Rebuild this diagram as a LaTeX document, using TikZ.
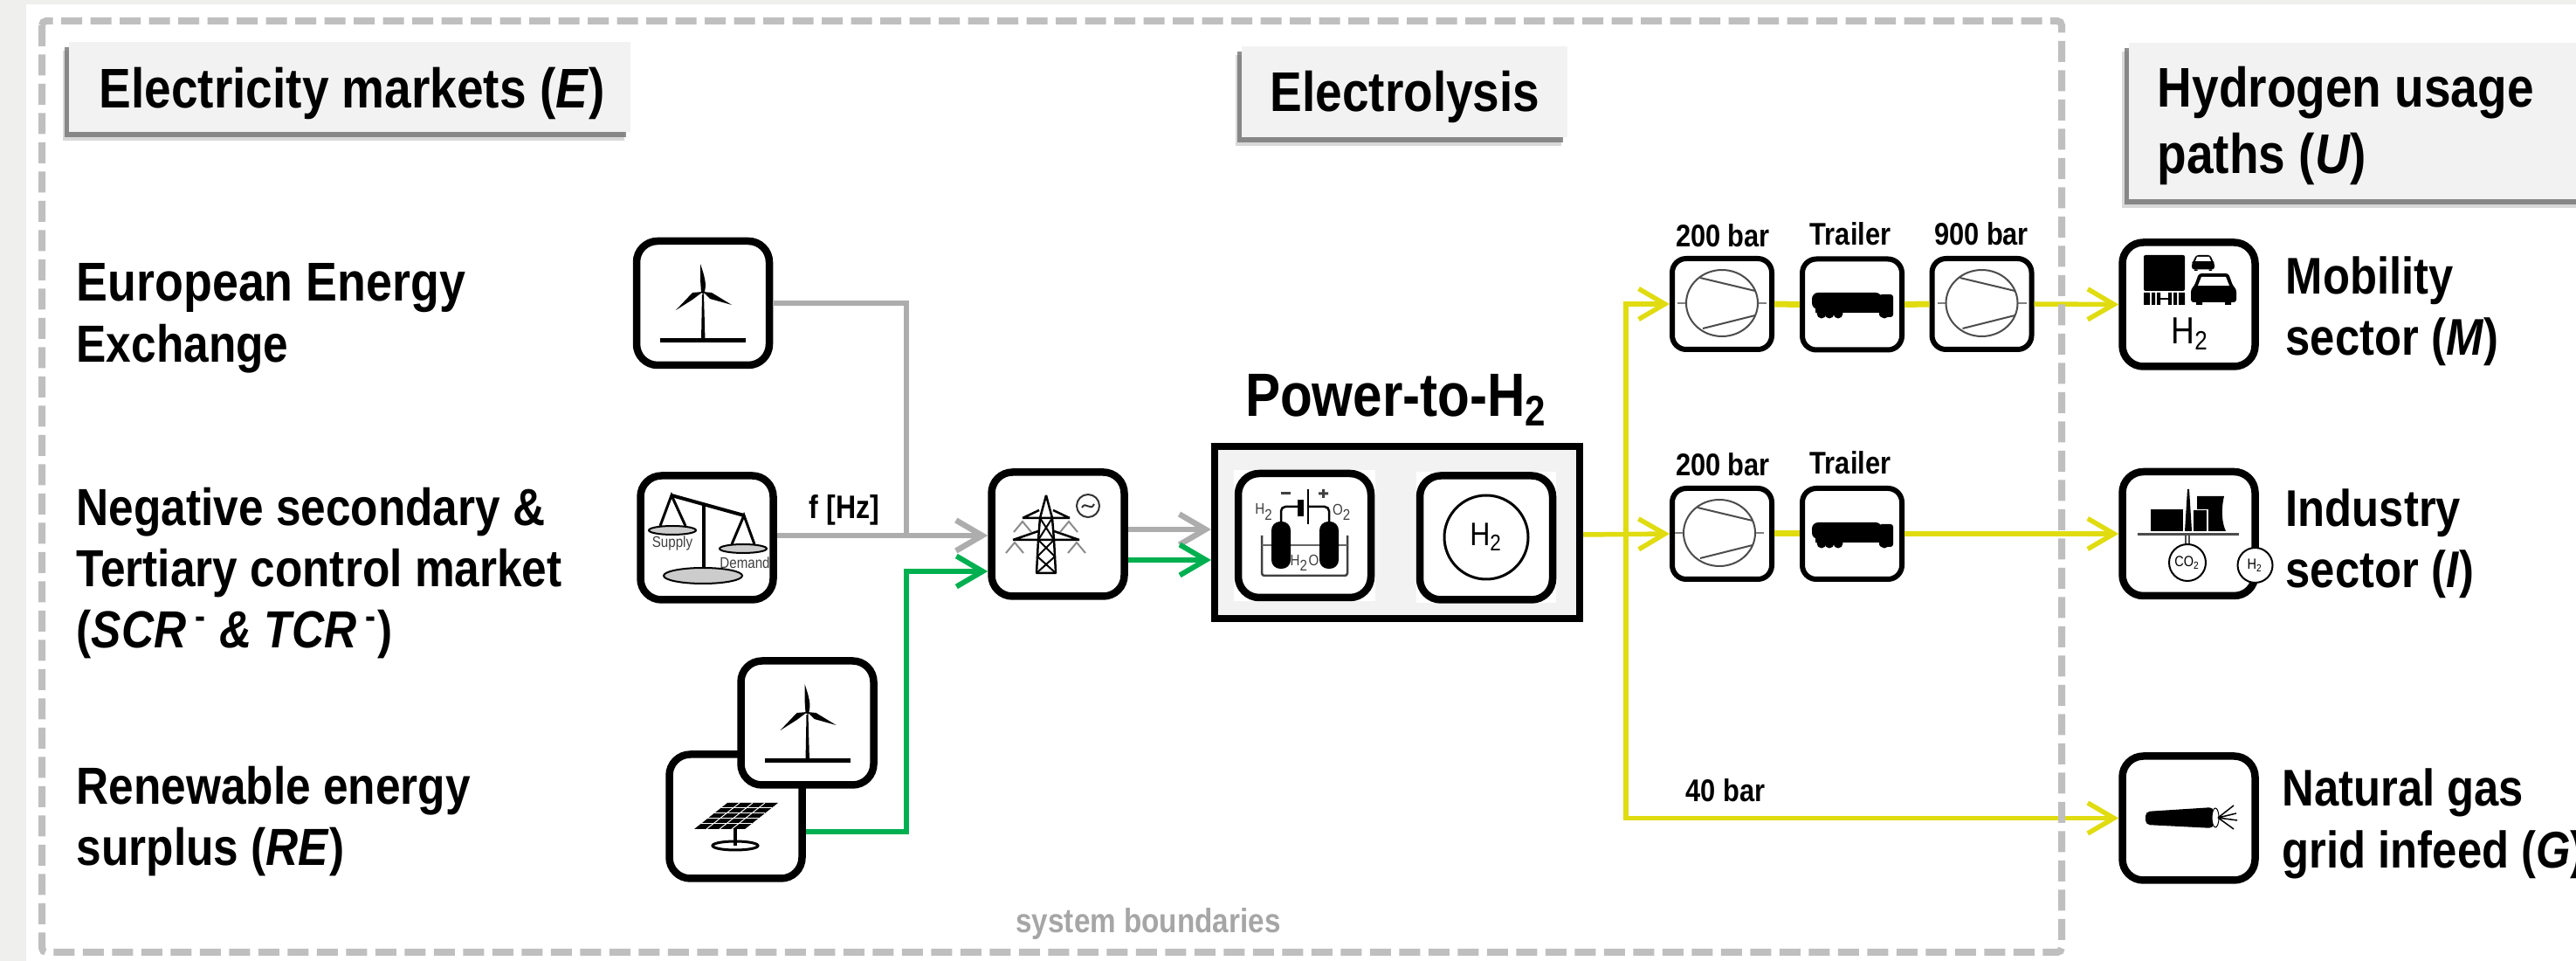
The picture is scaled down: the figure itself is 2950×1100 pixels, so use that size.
\documentclass[tikz,border=0pt]{standalone}
\usepackage{fontspec}
\setmainfont[FakeStretch=0.86]{Liberation Sans}
\usetikzlibrary{arrows.meta,shadows}
\definecolor{pagegray}{HTML}{EFEFED}
\definecolor{panelgray}{HTML}{F2F2F2}
\definecolor{boundgray}{HTML}{BFBFBF}
\definecolor{flowgray}{HTML}{ADADAD}
\definecolor{flowgreen}{HTML}{00B050}
\definecolor{flowyellow}{HTML}{E0DC10}
\tikzset{
    pics/windmill/.style={code={
        \draw[line width=0.5mm] (-49,0) -- (49,0);
        \fill (-2,0) -- (-1,-53) -- (1,-53) -- (2.5,0) -- cycle;
        \fill (1,-53) .. controls (4,-62) and (4,-68) .. (-3,-88) -- (-3,-70) -- (-2,-55) -- cycle;
        \fill (0,-56) -- (10,-55) -- (33,-41) -- (8,-48) -- cycle;
        \fill (0,-56) -- (-12,-55) -- (-31,-35) -- (-12,-47) -- cycle;
    }},
    pics/compressor/.style={code={
        \draw[line width=0.15mm, gray] (-51,0) -- (-41,0) (41,0) -- (51,0);
        \draw[line width=0.2mm, black!70] (0,0) ellipse [x radius=41, y radius=38];
        \draw[line width=0.2mm, black!70] (-25,-29) -- (38,-14) (-22,29) -- (38,14);
    }},
    pics/truck/.style={code={
        \fill[rounded corners=0.7mm] (-46,-15) rectangle (34,4);
        \fill (-42,3) rectangle (34,8);
        \fill[rounded corners=0.3mm] (31,-13) rectangle (47,13);
        \foreach \wx in {-35,-26,-16,37} {\fill (\wx,9) circle (5.5);}
    }},
    pics/car/.style={code={
        \fill[rounded corners=0.3mm] (-17,-18) -- (17,-18) -- (22,-4) -- (26,0) -- (26,15) -- (-26,15) -- (-26,0) -- (-22,-4) -- cycle;
        \fill (-20,15) rectangle (-13,18) (13,15) rectangle (20,18);
        \fill[white] (-14,-14) -- (14,-14) -- (18,-4) -- (-18,-4) -- cycle;
    }},
    iconbox/.style={draw, line width=0.85mm, rounded corners=2.4mm, fill=white, inner sep=0pt, minimum width=15.2cm/10, minimum height=14.2cm/10},
    smallbox/.style={draw, line width=0.6mm, rounded corners=1.6mm, fill=white, inner sep=0pt, minimum width=11.4cm/10, minimum height=10.4cm/10},
    headbox/.style={fill=panelgray, inner sep=0pt,
        drop shadow={shadow xshift=-0.75mm, shadow yshift=-1mm, fill=black!25, opacity=0.6},
        drop shadow={shadow xshift=-0.5mm, shadow yshift=-0.6mm, fill=black!55, opacity=0.8}},
    bigtext/.style={font=\fontsize{18.2}{21.6}\selectfont\bfseries},
    sidetext/.style={font=\fontsize{17}{20}\selectfont\bfseries, align=left, inner sep=0pt},
    righttext/.style={font=\fontsize{16.8}{20}\selectfont\bfseries, align=left, inner sep=0pt},
    stagetext/.style={font=\fontsize{10.2}{12}\selectfont\bfseries, inner sep=0pt},
    tinytext/.style={font=\fontsize{5}{6}\selectfont, text=black!75, inner sep=0pt},
    grayline/.style={flowgray, line width=0.65mm, line join=miter},
    greenline/.style={flowgreen, line width=0.6mm, line join=miter},
    yellowline/.style={flowyellow, line width=0.55mm, line join=miter},
}
\begin{document}
\begin{tikzpicture}[x=0.1mm, y=-0.1mm, >={Straight Barb[length=3mm, width=3.5mm]}]
    \useasboundingbox (0,0) rectangle (2950,1100);
    % Page
    \fill[pagegray] (0,0) rectangle (2950,1100);
    \fill[white] (30,5) rectangle (2950,1100);

    % Headers
    \node[headbox, minimum width=6.43cm, minimum height=1.03cm] (headE) at (400.5,99.5) {};
    \node[bigtext, anchor=base west, inner sep=0pt] (headEtext) at (113,124) {Electricity markets (\textit{E})};
    \node[headbox, minimum width=3.73cm, minimum height=1.04cm] (headP) at (1608.5,105) {};
    \node[bigtext, anchor=base, inner sep=0pt] (headPtext) at (1609,128) {Electrolysis};
    \node[headbox, anchor=north west, minimum width=6cm, minimum height=1.79cm] (headU) at (2437,48) {};
    \node[bigtext, anchor=west, align=left, inner sep=0pt] (headUtext) at (2470,144) {Hydrogen usage\\paths (\textit{U})};

    % Left labels
    \node[sidetext, anchor=west] (labelEEX) at (87,364) {\fontsize{17.8}{21.3}\selectfont European Energy\\Exchange};
    \node[sidetext, anchor=west] (labelSCR) at (87,656) {Negative secondary \&\\Tertiary control market\\(\textit{SCR}\textsuperscript{ -} \textit{\& TCR}\textsuperscript{ -})};
    \node[sidetext, anchor=west] (labelRE) at (87,940) {Renewable energy\\surplus (\textit{RE})};

    % Right labels
    \node[righttext, anchor=west] (labelM) at (2617,356) {Mobility\\sector (\textit{M})};
    \node[righttext, anchor=west] (labelI) at (2617,622) {Industry\\sector (\textit{I})};
    \node[righttext, anchor=west] (labelG) at (2613,943) {Natural gas\\grid infeed (\textit{G})};

    % Arrows
    \coordinate (fjoin) at (1038,613);
    \coordinate (gjoin) at (1038,654);
    \coordinate (split) at (1862,612);
    \node[iconbox] (eex) at (805,347) {};
    \node[iconbox] (balance) at (809.5,615.5) {};
    \node[iconbox] (grid) at (1211.5,611.5) {};
    \node[iconbox] (solar) at (842.5,934.5) {};
    \node[iconbox] (wind) at (924.5,827.5) {};
    \draw[grayline] (eex.east) -| (fjoin);
    \draw[grayline, ->] (balance.east |- fjoin) -- (grid.west |- fjoin);
    \draw[greenline, ->] (solar.east |- 0,952) -| (gjoin) -- (grid.west |- gjoin);
    \node[draw, line width=0.8mm, fill=panelgray, inner sep=0pt, minimum width=4.18cm, minimum height=1.97cm] (p2h) at (1600,609.5) {};
    \draw[grayline, ->] (grid.east |- 0,606) -- (p2h.west |- 0,606);
    \draw[greenline, ->] (grid.east |- 0,641) -- (p2h.west |- 0,641);

    % Power-to-H2
    \node[font=\fontsize{19.9}{23}\selectfont\bfseries, anchor=base, inner sep=0pt] (p2hlabel) at (1599,477) {Power-to-H\textsubscript{2}};
    \node[fill=white, inner sep=0pt, minimum width=1.62cm, minimum height=1.5cm] (cellback) at (1494,613) {};
    \node[fill=white, inner sep=0pt, minimum width=1.6cm, minimum height=1.5cm] (tankback) at (1702,615.5) {};
    \node[iconbox] (cell) at (1494,613) {};
    \node[iconbox] (tank) at (1702,615.5) {};
    \node[draw, circle, line width=0.3mm, inner sep=0pt, minimum size=0.96cm, font=\fontsize{10.6}{12}\selectfont] (tankH2) at (1702,615) {H\textsubscript{2}};
    % cell icon
    \draw[line width=0.25mm, black!75, rounded corners=0.3mm] (1445,613) -- (1445,659) -- (1543,659) -- (1543,613);
    \draw[line width=0.2mm, black!60] (1445,624) -- (1543,624);
    \fill[rounded corners=1mm] (1456,597) rectangle (1478,651) (1511,597) rectangle (1533,651);
    \draw[line width=0.25mm, rounded corners=0.5mm] (1467,597) -- (1467,580) -- (1489,580) (1498,580) -- (1522,580) -- (1522,597);
    \draw[line width=0.7mm] (1489,572) -- (1489,591);
    \draw[line width=0.25mm] (1498,560) -- (1498,600);
    \fill[black!75] (1467,563.5) rectangle (1478,566.5);
    \fill[black!75] (1510,563.5) rectangle (1521,566.5) (1514,560) rectangle (1517,570);
    \node[tinytext] (cellH2) at (1448,586) {H\textsubscript{2}};
    \node[tinytext] (cellO2) at (1537,586) {O\textsubscript{2}};
    \node[tinytext] (cellH2O) at (1494,644) {H\textsubscript{2}O};

    % Yellow path
    \node[smallbox] (comp1) at (1972,348) {};
    \node[smallbox] (truck1) at (2121,348.5) {};
    \node[smallbox] (comp2) at (2269.5,348) {};
    \node[smallbox] (comp3) at (1972,611) {};
    \node[smallbox] (truck2) at (2121,611) {};
    \node[iconbox] (mobility) at (2506.5,348.5) {};
    \node[iconbox] (industry) at (2506.5,611) {};
    \node[iconbox] (gas) at (2506.5,936.5) {};
    \draw[yellowline, ->] (p2h.east |- split) -- (comp3.west);
    \draw[yellowline, ->] (split) |- (comp1.west);
    \draw[yellowline, ->] (split) |- (gas.west);
    \draw[yellowline, line width=0.7mm] (comp1.east) -- (truck1.west);
    \draw[yellowline, line width=0.7mm] (truck1.east) -- (comp2.west);
    \draw[yellowline, ->] (comp2.east) -- (mobility.west);
    \draw[yellowline, line width=0.7mm] (comp3.east) -- (truck2.west);
    \draw[yellowline, ->] (truck2.east) -- (industry.west);
    \pic at (1972,347) {compressor};
    \pic at (2269.5,347) {compressor};
    \pic at (1969,610) {compressor};
    \pic at (2121,350) {truck};
    \pic at (2121,613) {truck};

    % Stage labels
    \node[stagetext, anchor=base] (label200a) at (1973,283) {200 bar};
    \node[stagetext, anchor=base] (labeltra) at (2119,281) {Trailer};
    \node[stagetext, anchor=base] (label900) at (2269,281) {900 bar};
    \node[stagetext, anchor=base] (label200b) at (1973,545) {200 bar};
    \node[stagetext, anchor=base] (labeltrb) at (2119,543) {Trailer};
    \node[stagetext, anchor=base] (label40) at (1976,918) {40 bar};
    \node[stagetext, font=\fontsize{10.6}{12}\selectfont\bfseries, anchor=base] (labelfreq) at (967,594) {f [Hz]};

    % Source icons
    \pic at (805,390) {windmill};
    \pic at (924.5,871) {windmill};
    % balance
    \draw[line width=0.4mm] (769,567) -- (852,590);
    \draw[line width=0.4mm] (806,578) -- (806,659);
    \draw[line width=0.3mm] (756,602) -- (769,567) -- (785,602) (838,623) -- (852,590) -- (864,623);
    \foreach \ex/\ey/\erx/\ery in {770/607/27/5, 851/628/27/5, 805/659/45/9} {
        \draw[line width=0.2mm, fill=black!20] (\ex,\ey) ellipse [x radius=\erx, y radius=\ery];
    }
    \node[tinytext] (supply) at (770,622) {Supply};
    \node[tinytext] (demand) at (853,644) {Demand};
    % solar
    \fill (833,919) -- (891,919) -- (853,949) -- (795,949) -- cycle;
    \draw[white, line width=0.1mm] (826,925) -- (884,925) (818,931) -- (876,931) (810,937) -- (869,937) (803,943) -- (861,943);
    \draw[white, line width=0.1mm] (847,919) -- (809,949) (862,919) -- (824,949) (876,919) -- (838,949);
    \draw[line width=0.35mm] (842,949) -- (842,968);
    \draw[line width=0.3mm] (842,968) ellipse [x radius=26, y radius=5];
    % pylon
    \draw[line width=0.25mm, line join=bevel] (1187,656) -- (1189,618) -- (1191,593) -- (1198,567) -- (1205,593) -- (1207,618) -- (1209,656) -- cycle;
    \draw[line width=0.25mm] (1171,593) -- (1225,593) (1160,618) -- (1236,618) (1171,593) -- (1190,584) (1225,593) -- (1206,584) (1160,618) -- (1189,608) (1236,618) -- (1207,608);
    \draw[line width=0.2mm] (1191,593) -- (1207,618) (1205,593) -- (1189,618) (1189,618) -- (1208,637) -- (1187,656) (1207,618) -- (1188,637) -- (1209,656);
    \foreach \px/\py in {1171/603, 1224/603, 1162/627, 1233/627} {
        \draw[line width=0.2mm, black!45] (\px-10,\py+6) -- (\px,\py-6) -- (\px+10,\py+6);
    }
    \draw[line width=0.2mm, black!80] (1246,579) circle (13);
    \draw[line width=0.2mm, black!80] (1239,581) .. controls (1243,573) and (1249,586) .. (1253,577);

    % Sink icons
    \fill[rounded corners=0.2mm] (2455,292) rectangle (2502,333);
    \fill (2455,335) rectangle (2462,349) (2464,335) rectangle (2468,349) (2470,335) rectangle (2474,349) (2483,335) rectangle (2487,349) (2489,335) rectangle (2493,349) (2495,335) rectangle (2502,349);
    \draw[line width=0.25mm] (2474,342) -- (2483,342);
    \pic at (2535,331) {car};
    \pic[scale=0.5] at (2523,301) {car};
    \node[font=\fontsize{12.3}{14}\selectfont, inner sep=0pt] (mobilityH2) at (2508,382) {H\textsubscript{2}};
    % industry
    \draw[line width=0.3mm, black!70] (2448,612) -- (2564,612);
    \fill (2463,583) rectangle (2500,608);
    \fill (2502,608) -- (2505,560) -- (2507,560) -- (2510,608) -- cycle;
    \fill (2512,584) rectangle (2527,608);
    \fill (2516,568) -- (2547,568) .. controls (2543,585) and (2545,600) .. (2549,608) -- (2529,608) -- (2529,583) -- (2516,583) -- cycle;
    \draw[line width=0.2mm, black!70] (2503,612) -- (2503,624) (2507,612) -- (2507,624);
    \node[draw, circle, line width=0.2mm, fill=white, inner sep=0pt, minimum size=0.42cm, font=\fontsize{4.8}{6}\selectfont] (co2) at (2505,644) {CO\textsubscript{2}};
    \node[draw, circle, line width=0.2mm, fill=white, inner sep=0pt, minimum size=0.4cm, font=\fontsize{4.8}{6}\selectfont] (h2circle) at (2582.5,647) {H\textsubscript{2}};
    % gas torch
    \fill[rounded corners=0.5mm] (2457,929) -- (2535,924) -- (2535,948) -- (2457,944) -- cycle;
    \draw[line width=0.1mm, fill=white] (2537,936) ellipse [x radius=4, y radius=11];
    \draw[line width=0.15mm] (2540,936) -- (2558,922) (2540,936) -- (2561,931) (2540,936) -- (2562,939) (2540,936) -- (2558,949);

    % Boundary
    \draw[boundgray, line width=0.8mm, dash pattern=on 2.4mm off 0.95mm, rounded corners=0.5mm] (48,24) rectangle (2361,1090);
    \node[font=\fontsize{11}{13}\selectfont\bfseries, text=black!35, anchor=base, inner sep=0pt] (sysbound) at (1315,1068) {system boundaries};
\end{tikzpicture}
\end{document}
